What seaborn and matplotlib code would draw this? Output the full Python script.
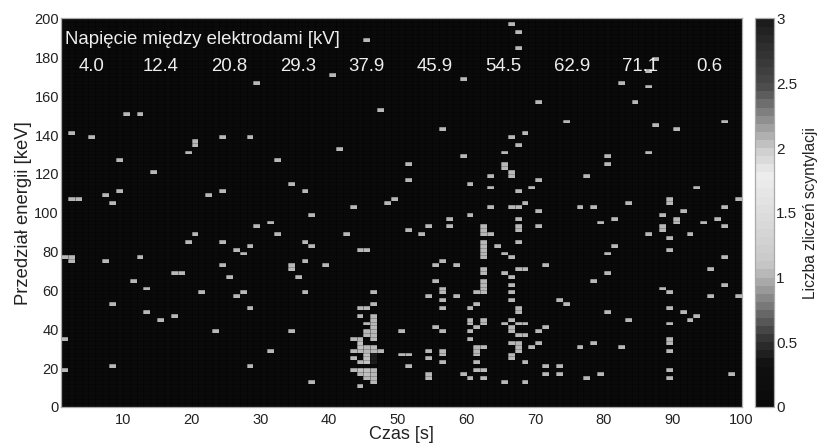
import numpy as np
import pandas as pd
import matplotlib
matplotlib.use("Agg")
import matplotlib.pyplot as plt
from matplotlib.colors import LinearSegmentedColormap
import seaborn as sns

# Czas [s] and the energy bins (lower edge, keV) with a count in that second
czas = [1, 2, 3, 5, 7, 8, 9, 10, 11, 12, 13, 14, 15, 17, 18, 19, 20, 21, 22, 23,
        24, 25, 26, 27, 28, 29, 31, 32, 34, 35, 36, 37, 39, 40, 41, 42, 43, 44,
        45, 46, 47, 48, 49, 50, 51, 53, 54, 55, 56, 57, 58, 59, 60, 61, 62, 63,
        64, 65, 66, 67, 68, 69, 70, 71, 73, 74, 76, 77, 78, 79, 80, 81, 82, 83,
        84, 86, 87, 88, 89, 90, 91, 92, 93, 94, 95, 96, 97, 98, 99]
energia = [
    [76, 34, 18], [140, 106, 76, 74], [106], [138], [108, 74], [104, 52, 20],
    [126, 110], [150], [64], [150, 76], [60, 48], [120], [44], [68, 46], [68],
    [130, 84], [136, 134, 88], [58], [108], [38], [138, 110, 84, 72], [66],
    [80, 56], [78, 58], [138, 82, 50, 20], [166, 92], [94, 28], [126, 88],
    [114, 72, 70, 38], [66], [110, 84, 74, 58], [98, 82, 12], [72], [170],
    [132], [88], [102, 34, 28, 24, 18],
    [80, 50, 46, 34, 32, 30, 28, 22, 18, 16, 10],
    [188, 80, 50, 42, 38, 36, 30, 28, 26, 24, 22, 18, 16, 14],
    [58, 52, 46, 44, 42, 40, 38, 36, 34, 30, 28, 18, 16, 14, 12],
    [152, 28], [104], [106], [38, 26], [124, 116, 90, 26, 20], [88],
    [92, 56, 28, 24, 16, 14], [72, 64, 40],
    [142, 74, 60, 58, 54, 50, 38, 28, 26, 22], [96, 92], [72, 56],
    [168, 128, 16], [114, 98, 50, 44, 42, 38, 34, 14],
    [58, 52, 40, 30, 28, 26, 22, 18],
    [92, 90, 88, 84, 82, 80, 78, 76, 70, 68, 64, 62, 60, 58, 44, 42, 30, 18, 14],
    [118, 112, 102, 88], [82], [130, 124, 122, 78, 68, 42, 12],
    [196, 138, 120, 118, 102, 76, 66, 62, 58, 54, 44, 40, 38, 32, 26, 24],
    [192, 184, 134, 110, 102, 96, 92, 90, 84, 70, 50, 48, 42, 36, 32, 30, 28],
    [140, 104, 70, 42, 36, 22, 12], [112, 30], [156, 116, 100, 92, 38, 32],
    [72, 40, 20, 16], [54, 20, 16], [146, 52], [102, 30], [118, 14],
    [102, 64, 32], [94, 16], [128, 124, 78, 68, 48], [96, 82], [166, 30],
    [104, 44], [156], [172, 164, 130, 88], [178, 144], [98, 92, 90, 60],
    [106, 104, 86, 80, 58, 50, 42, 34, 32, 28, 18, 14], [142, 96, 94],
    [100, 48], [88, 44], [112, 46], [94], [70, 56], [96],
    [146, 102, 92, 76, 62], [16], [106, 56],
]

# cells with more than one count
czas_2 = [44, 44, 45, 45, 45, 45, 45, 44]
energia_2 = [32, 30, 26, 24, 22, 18, 16, 18]
czas_3 = [46, 46, 46]
energia_3 = [26, 24, 22]

napiecia = ["4.0", "12.4", "20.8", "29.3", "37.9", "45.9", "54.5", "62.9", "71.1", "0.6"]
napiecia_t = [5.4, 15.5, 25.5, 35.5, 45.5, 55.4, 65.4, 75.4, 85.3, 95.3]

# Bins
kroki_t = np.arange(1, 100)
kroki_e = np.arange(0, 200, 2)

zliczenia = np.zeros((len(kroki_e), len(kroki_t)))
for t, lista in zip(czas, energia):
    for e in lista:
        zliczenia[e // 2, t - 1] = 1
for t, e in zip(czas_2, energia_2):
    zliczenia[e // 2, t - 1] = 2
for t, e in zip(czas_3, energia_3):
    zliczenia[e // 2, t - 1] = 3
df = pd.DataFrame(zliczenia, index=kroki_e, columns=kroki_t)

# Colour scale goes up to near white at 1.8 and back down to dark at 3
punkty = [(0, "#0a0a0a"), (0.3 / 3, "#101010"), (0.5 / 3, "#333333"),
          (1 / 3, "#b4b4b4"), (1.1 / 3, "#c8c8c8"), (1.8 / 3, "#eeeeee"),
          (2 / 3, "#cccccc"), (2.5 / 3, "#4a4a4a"), (1, "#1c1c1c")]
skala = LinearSegmentedColormap.from_list("scyntylacje", punkty, N=48)

sns.set_style("white")
plt.rcParams["font.family"] = ["Liberation Sans", "DejaVu Sans"]
plt.rcParams["text.color"] = "#222222"
plt.rcParams["axes.labelcolor"] = "#222222"
plt.rcParams["xtick.color"] = "#222222"
plt.rcParams["ytick.color"] = "#222222"

fig = plt.figure(figsize=(8.19, 4.43), dpi=100)
ax = fig.add_axes([61 / 819, 1 - 407 / 443, 680.5 / 819, 388.5 / 443])
cax = fig.add_axes([755 / 819, 1 - 407 / 443, 18.5 / 819, 388.5 / 443])

sns.heatmap(df, ax=ax, cbar_ax=cax, cmap=skala, vmin=0, vmax=3,
            linewidths=0, xticklabels=False, yticklabels=False,
            cbar_kws={"ticks": [0, 0.5, 1, 1.5, 2, 2.5, 3]})
ax.set_xlim(0, 99)
ax.set_ylim(0, 100)

# Faint mesh between the cells
ax.vlines(np.arange(100), 0, 100, color="black", alpha=0.45, linewidth=0.5)
ax.hlines(np.arange(101), 0, 99, color="black", alpha=0.3, linewidth=0.5)

# Ticks (heatmap positions are bin indices)
x_ticks = np.arange(10, 101, 10)
y_ticks = np.arange(0, 201, 20)
ax.set_xticks(x_ticks - 1)
ax.set_xticklabels([str(v) for v in x_ticks], rotation=0, fontsize=10.5)
ax.set_yticks(y_ticks / 2)
ax.set_yticklabels([str(v) for v in y_ticks], rotation=0, fontsize=10.5)
ax.tick_params(axis="both", direction="in", length=2, width=0.6, color="#555555", pad=1.5)
ax.tick_params(axis="x", pad=4)
ax.set_xlabel("Czas [s]", fontsize=13, labelpad=-0.6)
ax.set_ylabel("Przedział energii [keV]", fontsize=13.3, labelpad=2)
for s in ax.spines.values():
    s.set_visible(True)
    s.set_color("#aaaaaa")
    s.set_linewidth(0.9)

# Voltage annotation inside the plot
ax.text(0.6, 94.6, "Napięcie między elektrodami [kV]", color="#eeeeee", fontsize=13.4,
        ha="left", va="center")
for t, txt in zip(napiecia_t, napiecia):
    ax.text(t - 1, 87.7, txt, color="#eeeeee", fontsize=13.4, ha="center", va="center")

# Colorbar
cb = ax.collections[0].colorbar
cb.set_ticklabels(["0", "0.5", "1", "1.5", "2", "2.5", "3"])
cb.ax.tick_params(direction="in", length=3, width=0.6, color="#555555", labelsize=11, pad=2)
cb.outline.set_visible(True)
cb.outline.set_edgecolor("#aaaaaa")
cb.outline.set_linewidth(0.9)
cb.set_label("Liczba zliczeń scyntylacji", fontsize=11.2, labelpad=4)

fig.savefig("out.png", dpi=100)
plt.close(fig)
